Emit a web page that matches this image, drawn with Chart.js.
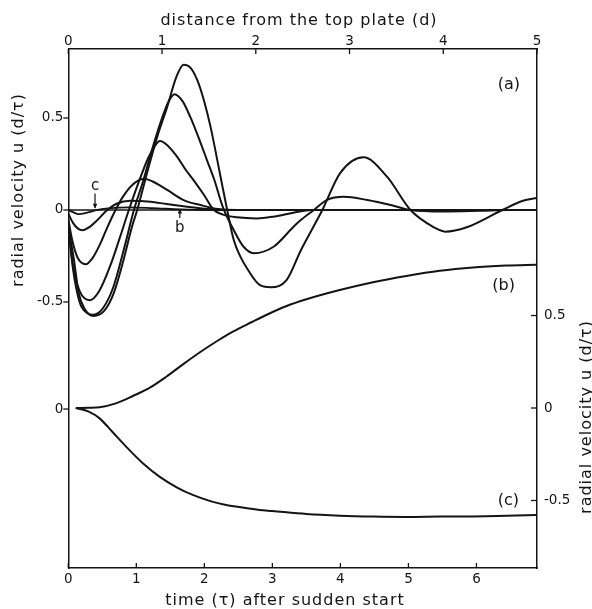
<!DOCTYPE html>
<html>
<head>
<meta charset="utf-8">
<script src="https://cdn.jsdelivr.net/npm/chart.js@4.4.0/dist/chart.umd.min.js"></script>
<style>
  html, body { margin: 0; padding: 0; background: #fff; }
  #wrap { width: 592px; height: 609px; position: relative; }
</style>
</head>
<body>
<div id="wrap"><canvas id="chart"></canvas></div>
<script>
// (a) Radial velocity profiles u(d) at successive times after the sudden start,
//     [distance from the top plate d, u] — top axis / left axis.
const profile1 = [[0,0],[0.05,-0.012],[0.11,-0.023],[0.2,-0.015],[0.31,0],[0.45,0.01],[0.65,0.014],[0.9,0.01],[1.2,0.003],[1.5,0],[5,0]];
const profile2 = [[0,-0.02],[0.05,-0.07],[0.1,-0.1],[0.15,-0.11],[0.22,-0.095],[0.3,-0.06],[0.416,0],[0.52,0.035],[0.66,0.05],[0.877,0.045],[1.05,0.032],[1.23,0.02],[1.5,0.005],[1.7,0],[5,0]];
const profile3 = [[0,-0.05],[0.04,-0.16],[0.1,-0.26],[0.185,-0.295],[0.26,-0.26],[0.344,-0.18],[0.42,-0.09],[0.504,0],[0.58,0.07],[0.68,0.135],[0.806,0.17],[0.9,0.155],[1.055,0.109],[1.23,0.054],[1.41,0.027],[1.6,0.005],[1.8,0],[5,0]];
const profile4 = [[0,-0.09],[0.05,-0.3],[0.12,-0.44],[0.23,-0.49],[0.33,-0.44],[0.45,-0.3],[0.55,-0.15],[0.646,0],[0.75,0.15],[0.85,0.28],[0.92,0.345],[0.977,0.375],[1.05,0.355],[1.16,0.29],[1.25,0.22],[1.34,0.16],[1.45,0.08],[1.553,0],[1.65,-0.025],[1.8,-0.04],[2.01,-0.046],[2.2,-0.035],[2.4,-0.015],[2.6,0],[5,0]];
const profile5 = [[0,-0.09],[0.05,-0.32],[0.12,-0.5],[0.2,-0.56],[0.26,-0.57],[0.36,-0.54],[0.48,-0.42],[0.6,-0.2],[0.7,0],[0.8,0.16],[0.9,0.34],[1.0,0.5],[1.07,0.59],[1.133,0.629],[1.22,0.59],[1.3,0.507],[1.4,0.38],[1.48,0.27],[1.56,0.16],[1.62,0.06],[1.66,0],[1.765,-0.109],[1.87,-0.2],[1.98,-0.235],[2.19,-0.2],[2.405,-0.09],[2.48,-0.055],[2.62,0],[2.76,0.055],[2.94,0.072],[3.19,0.054],[3.47,0.023],[3.65,0],[4.0,-0.008],[4.4,-0.004],[4.7,0],[5,0]];
const profile6 = [[0,-0.09],[0.06,-0.27],[0.11,-0.45],[0.17,-0.534],[0.27,-0.576],[0.38,-0.55],[0.486,-0.45],[0.59,-0.27],[0.68,-0.09],[0.735,0],[0.85,0.22],[0.95,0.4],[1.055,0.56],[1.15,0.72],[1.23,0.79],[1.3,0.775],[1.375,0.707],[1.45,0.59],[1.517,0.453],[1.624,0.181],[1.695,0],[1.765,-0.163],[1.94,-0.344],[2.05,-0.41],[2.16,-0.42],[2.33,-0.38],[2.48,-0.22],[2.71,0],[2.9,0.2],[3.15,0.286],[3.4,0.181],[3.65,0],[3.9,-0.094],[4.02,-0.118],[4.25,-0.094],[4.63,0],[4.85,0.05],[5.0,0.065]];
const zeroLine = [[0,0],[5,0]];

// (b), (c) Time histories of u at the two marked positions,
//     [time τ, u] — bottom axis / right axis.
const historyB = [[0.11,0],[0.3,0.001],[0.46,0.004],[0.7,0.025],[0.95,0.065],[1.2,0.11],[1.44,0.169],[1.7,0.24],[1.93,0.3],[2.2,0.365],[2.42,0.413],[2.7,0.465],[2.91,0.503],[3.2,0.55],[3.5,0.588],[3.99,0.638],[4.48,0.68],[4.97,0.714],[5.46,0.742],[5.95,0.76],[6.44,0.77],[6.88,0.775]];
const historyC = [[0.11,0],[0.3,-0.02],[0.46,-0.056],[0.65,-0.13],[0.85,-0.209],[1.1,-0.3],[1.34,-0.371],[1.6,-0.43],[1.83,-0.47],[2.1,-0.505],[2.32,-0.524],[2.51,-0.535],[2.81,-0.551],[3.0,-0.557],[3.5,-0.573],[3.99,-0.582],[4.48,-0.587],[4.97,-0.589],[5.46,-0.587],[5.95,-0.586],[6.44,-0.582],[6.88,-0.578]];

// Axis ticks
const distanceTicks = [0, 1, 2, 3, 4, 5];
const timeTicks = [0, 1, 2, 3, 4, 5, 6];
const leftTicks = [0.5, 0, -0.5];
const leftLowerZero = -1.082;          // the "0" of panels (b),(c) on the left axis
const rightTicks = [0.5, 0, -0.5];

// Positions marked on the profiles where (b) and (c) are recorded
const markC = 0.285;
const markB = 1.19;

const INK = '#141414';
const FONT = '"DejaVu Sans", sans-serif';

const pts = arr => arr.map(([x, y]) => ({ x, y }));
const profileSet = (data, width) => ({
  data: pts(data), xAxisID: 'xd', yAxisID: 'ya',
  borderColor: INK, borderWidth: width, pointRadius: 0,
  cubicInterpolationMode: 'monotone', fill: false
});
const historySet = data => ({
  data: pts(data), xAxisID: 'x', yAxisID: 'yr',
  borderColor: INK, borderWidth: 2, pointRadius: 0,
  cubicInterpolationMode: 'monotone', fill: false
});

const tickFont = { family: FONT, size: 13.5 };
const border = { display: true, color: INK, width: 1.5 };
const noGrid = { display: false, drawTicks: false };

const decor = {
  id: 'decor',
  afterDraw(chart) {
    const { ctx, chartArea: a } = chart;
    const { x, xd, ya, yr } = chart.scales;
    ctx.save();
    ctx.strokeStyle = INK;
    ctx.fillStyle = INK;
    ctx.lineWidth = 1.3;
    const seg = (x1, y1, x2, y2) => { ctx.beginPath(); ctx.moveTo(x1, y1); ctx.lineTo(x2, y2); ctx.stroke(); };

    // tick marks: inward on bottom, top and right, outward on the left
    timeTicks.forEach(v => { const p = x.getPixelForValue(v); seg(p, a.bottom, p, a.bottom - 5); });
    distanceTicks.forEach(v => { const p = xd.getPixelForValue(v); seg(p, a.top, p, a.top + 5); });
    [...leftTicks, leftLowerZero].forEach(v => { const p = ya.getPixelForValue(v); seg(a.left - 5, p, a.left, p); });
    rightTicks.forEach(v => { const p = yr.getPixelForValue(v); seg(a.right - 6, p, a.right, p); });

    // axis titles
    ctx.font = '16px ' + FONT;
    ctx.letterSpacing = '1px';
    ctx.textAlign = 'center';
    ctx.textBaseline = 'alphabetic';
    ctx.fillText('distance from the top plate (d)', 299, 25);
    ctx.fillText('time (\u03C4) after sudden start', 285, 605);
    ctx.save(); ctx.translate(23, 190); ctx.rotate(-Math.PI / 2);
    ctx.fillText('radial velocity u (d/\u03C4)', 0, 0); ctx.restore();
    ctx.save(); ctx.translate(591, 417); ctx.rotate(-Math.PI / 2);
    ctx.fillText('radial velocity u (d/\u03C4)', 0, 0); ctx.restore();

    // panel letters
    ctx.letterSpacing = '0px';
    ctx.textBaseline = 'middle';
    ctx.fillText('(a)', xd.getPixelForValue(4.7), ya.getPixelForValue(0.68));
    ctx.fillText('(b)', x.getPixelForValue(6.40), yr.getPixelForValue(0.658));
    ctx.fillText('(c)', x.getPixelForValue(6.47), yr.getPixelForValue(-0.503));

    // markers c and b with arrows
    ctx.font = '15px ' + FONT;
    const cx = xd.getPixelForValue(markC);
    ctx.fillText('c', cx, ya.getPixelForValue(0.13));
    const cTop = ya.getPixelForValue(0.09), cTip = ya.getPixelForValue(0.012);
    ctx.lineWidth = 1.2;
    seg(cx, cTop, cx, cTip);
    ctx.beginPath(); ctx.moveTo(cx, cTip + 1); ctx.lineTo(cx - 2.2, cTip - 4); ctx.lineTo(cx + 2.2, cTip - 4); ctx.closePath(); ctx.fill();
    const bx = xd.getPixelForValue(markB);
    ctx.fillText('b', bx, ya.getPixelForValue(-0.098));
    const bBot = ya.getPixelForValue(-0.043), bTip = ya.getPixelForValue(0.003);
    seg(bx, bBot, bx, bTip);
    ctx.beginPath(); ctx.moveTo(bx, bTip - 1); ctx.lineTo(bx - 2.2, bTip + 4); ctx.lineTo(bx + 2.2, bTip + 4); ctx.closePath(); ctx.fill();
    ctx.restore();
  }
};

new Chart(document.getElementById('chart'), {
  type: 'line',
  data: {
    datasets: [
      profileSet(zeroLine, 1.4),
      profileSet(profile1, 1.8),
      profileSet(profile2, 2),
      profileSet(profile3, 2),
      profileSet(profile4, 2),
      profileSet(profile5, 2),
      profileSet(profile6, 2),
      historySet(historyB),
      historySet(historyC)
    ]
  },
  options: {
    responsive: true,
    maintainAspectRatio: false,
    animation: false,
    layout: { padding: 0 },
    plugins: { legend: { display: false }, tooltip: { enabled: false } },
    scales: {
      x: {
        type: 'linear', position: 'bottom', min: 0, max: 6.89,
        afterBuildTicks: s => { s.ticks = timeTicks.map(v => ({ value: v })); },
        afterFit: s => { s.height = 41; },
        ticks: { font: tickFont, color: INK, padding: 3, maxRotation: 0, autoSkip: false },
        grid: noGrid, border
      },
      xd: {
        type: 'linear', position: 'top', min: 0, max: 5,
        afterBuildTicks: s => { s.ticks = distanceTicks.map(v => ({ value: v })); },
        afterFit: s => { s.height = 49; },
        ticks: { font: tickFont, color: INK, padding: -1, maxRotation: 0, autoSkip: false },
        grid: noGrid, border
      },
      ya: {
        type: 'linear', position: 'left', min: -1.946, max: 0.875,
        afterBuildTicks: s => { s.ticks = [...leftTicks, leftLowerZero].map(v => ({ value: v })); },
        afterFit: s => { s.width = 68.3; },
        ticks: { font: tickFont, color: INK, padding: 5, autoSkip: false,
                 callback: v => (v === leftLowerZero ? '0' : String(v)) },
        grid: noGrid, border
      },
      yr: {
        type: 'linear', position: 'right', min: -0.865, max: 1.941,
        afterBuildTicks: s => { s.ticks = rightTicks.map(v => ({ value: v })); },
        afterFit: s => { s.width = 55; },
        ticks: { font: tickFont, color: INK, padding: 7, autoSkip: false,
                 callback: v => String(v) },
        grid: noGrid, border
      }
    }
  },
  plugins: [decor]
});
</script>
</body>
</html>
